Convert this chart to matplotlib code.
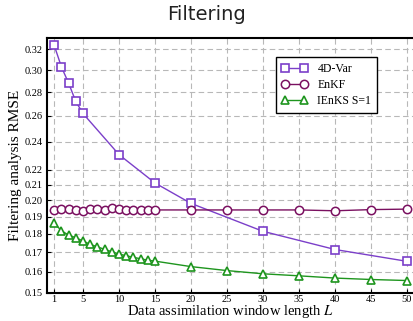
import matplotlib
matplotlib.use("Agg")
import matplotlib.pyplot as plt
from matplotlib.ticker import FixedLocator, FixedFormatter, NullLocator

# window lengths
L_4dvar = [1, 2, 3, 4, 5, 10, 15, 20, 30, 40, 50]
rmse_4dvar = [0.324, 0.303, 0.288, 0.272, 0.262, 0.2305, 0.211, 0.198, 0.1815, 0.1715, 0.1653]

L_dense = list(range(1, 16)) + [20, 25, 30, 35, 40, 45, 50]
rmse_enkf = [0.1940, 0.1945, 0.1943, 0.1940, 0.1932, 0.1945, 0.1945, 0.1940, 0.1952, 0.1943,
             0.1940, 0.1937, 0.1940, 0.1937, 0.1940,
             0.1940, 0.1940, 0.1940, 0.1940, 0.1935, 0.1942, 0.1945]
rmse_ienks = [0.1863, 0.1818, 0.1794, 0.1779, 0.1761, 0.1743, 0.1729, 0.1716, 0.1703, 0.1691,
              0.1682, 0.1674, 0.1666, 0.1659, 0.1654,
              0.1626, 0.1606, 0.1590, 0.1580, 0.1569, 0.1562, 0.1557]

yticks = [0.15, 0.16, 0.17, 0.18, 0.19, 0.20, 0.21, 0.22, 0.24, 0.26, 0.28, 0.30, 0.32]
xticks = [1, 5, 10, 15, 20, 25, 30, 35, 40, 45, 50]

serif = ['Liberation Serif', 'DejaVu Serif']
plt.rcParams['mathtext.fontset'] = 'stix'

fig = plt.figure(figsize=(4.13, 3.21), dpi=100)
ax = fig.add_axes([47 / 413, 28.5 / 321, 367.2 / 413, 255 / 321])

ax.plot(L_4dvar, rmse_4dvar, color='#7b3fc9', lw=1, marker='s', ms=5.8,
        mfc='white', mew=1.2, label='4D-Var', zorder=3)
ax.plot(L_dense, rmse_enkf, color='#7a1060', lw=1, marker='o', ms=6,
        mfc='white', mew=1.1, label='EnKF', zorder=3)
ax.plot(L_dense, rmse_ienks, color='#1e951e', lw=1, marker='^', ms=6,
        mfc='white', mew=1.2, label='IEnKS S=1', zorder=3)

ax.set_yscale('log')
ax.set_ylim(0.15, 0.332)
ax.set_xlim(0, 51)
ax.yaxis.set_major_locator(FixedLocator(yticks))
ax.yaxis.set_major_formatter(FixedFormatter(['%.2f' % v for v in yticks]))
ax.yaxis.set_minor_locator(NullLocator())
ax.set_xticks(xticks)

for lab in ax.get_xticklabels() + ax.get_yticklabels():
    lab.set_family(serif)
    lab.set_fontsize(7.5)
ax.tick_params(direction='in', length=3, width=0.8, pad=3)
ax.tick_params(axis='x', pad=2)

ax.grid(True, ls=(0, (5, 3)), color='#b8b8b8', lw=0.8, zorder=0)
for s in ax.spines.values():
    s.set_linewidth(1.5)

ax.set_xlabel('Data assimilation window length $L$', family=serif, fontsize=10.5, labelpad=-0.8)
ax.set_ylabel('Filtering analysis RMSE', family=serif, fontsize=11, labelpad=2)

fig.suptitle('Filtering', fontsize=14, y=0.985, x=0.5, color='#222222')

leg = ax.legend(loc='upper right', prop={'family': serif, 'size': 8.5}, numpoints=2,
                fancybox=False, edgecolor='black', framealpha=1, handlelength=2.2,
                borderpad=0.5, labelspacing=0.35,
                bbox_to_anchor=(383 / 413, 270 / 321), bbox_transform=fig.transFigure)
leg.get_frame().set_linewidth(1)

fig.savefig('out.png', dpi=100)
